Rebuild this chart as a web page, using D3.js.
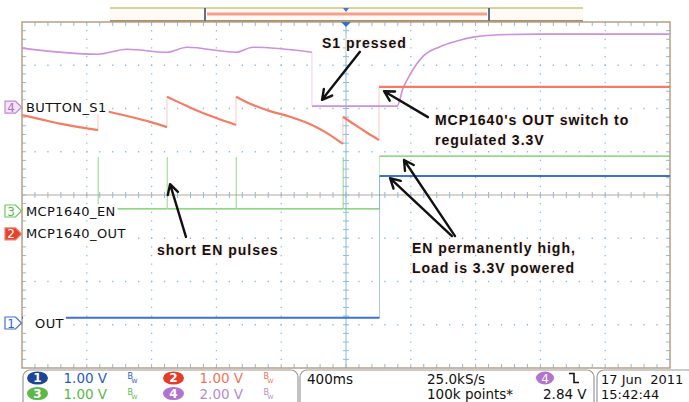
<!DOCTYPE html>
<html>
<head>
<meta charset="utf-8">
<script src="https://cdn.jsdelivr.net/npm/d3@7"></script>
<style>
  body { margin: 0; background: #fff; }
  svg { display: block; }
</style>
</head>
<body>
<script>
// timebase 400 ms/div, 10 divisions, trigger in the middle
const timeTicks = d3.range(-2000, 2001, 400)
const divTicks = d3.range(-4, 5, 1)

// channels 1..4 : volts/div and ground position (divisions from centre)
const chNames = ['OUT', 'MCP1640_OUT', 'MCP1640_EN', 'BUTTON_S1']
const chColors = ['#3c72d2', '#f47c62', '#6cc85c', '#cc90de']
const chVoltsDiv = [1, 1, 1, 2]
const chOffset = [-2.96, -0.90, -0.37, 2.03]
const chScaleText = ['1.00 V', '1.00 V', '1.00 V', '2.00 V']

// traces, [ms, V]; equal times = fast edge
const ch1Pts = [[-2000, 0.12], [207, 0.12], [207, 3.40], [2000, 3.40]]

const ch2Pts = [
  [-2000, 2.75], [-1883, 2.65], [-1765, 2.55], [-1648, 2.47], [-1531, 2.40],
  [-1531, 2.89], [-1457, 2.82], [-1333, 2.71], [-1210, 2.59], [-1105, 2.47],
  [-1105, 3.17], [-1025, 3.03], [-932, 2.87], [-809, 2.69], [-679, 2.52],
  [-679, 3.17], [-593, 3.01], [-469, 2.84], [-346, 2.71], [-210, 2.52], [-130, 2.36], [-19, 2.08],
  [-19, 2.71], [56, 2.52], [130, 2.34], [204, 2.17],
  [204, 3.40], [2000, 3.40]
]

const ch3Pts = [
  [-2000, 0.05],
  [-1531, 0.05], [-1531, 1.23], [-1528, 1.23], [-1528, 0.05],
  [-1105, 0.05], [-1105, 1.23], [-1102, 1.23], [-1102, 0.05],
  [-679, 0.05], [-679, 1.23], [-676, 1.23], [-676, 0.05],
  [-19, 0.05], [-19, 1.23], [-16, 1.23], [-16, 0.05],
  [207, 0.05], [207, 1.27], [2000, 1.27]
]

const ch4Pts = [
  [-2000, 2.73], [-1537, 2.45], [-1352, 2.68], [-1105, 2.54], [-981, 2.77],
  [-679, 2.54], [-574, 2.77], [-210, 2.54],
  [-210, 0.05], [315, 0.05], [352, 0.88], [383, 1.35], [432, 1.95], [475, 2.35],
  [580, 2.80], [685, 3.06], [784, 3.24], [889, 3.33], [1198, 3.38], [2000, 3.38]
]

// annotations, positions in [ms, divisions]
const noteText = [['S1 pressed'], ["MCP1640's OUT switch to", 'regulated 3.3V'], ['short EN pulses'],
  ['EN permanently high,', 'Load is 3.3V powered']]
const notePos = [[-148, 3.40], [549, 1.62], [-1167, -1.39], [407, -1.34]]
// tail t, tail d, head t, head d
const arrowPos = [[86, 3.31, -148, 2.20], [506, 1.80, 235, 2.40], [-988, -0.97, -1086, 0.25],
  [673, -0.95, 358, 0.81], [654, -0.95, 272, 0.39]]

// status bar
const timebase = '400ms'
const sampleRate = '25.0kS/s'
const recordLen = '100k points*'
const trigLevel = '2.84 V'
const dateText = '17 Jun  2011'
const clockText = '15:42:44'

const W = 689, H = 402
const svg = d3.select('body').append('svg').attr('width', W).attr('height', H)

const x = d3.scaleLinear().domain([-2000, 2000]).range([22, 670])
const y = d3.scaleLinear().domain([-4, 4]).range([368, 22])
const X0 = x(-2000), X1 = x(2000), Y0 = y(4), Y1 = y(-4)
const minX = (x(400) - x(0)) / 5, minY = (y(0) - y(1)) / 5

// record view bar on top
const bar = svg.append('g')
bar.append('rect').attr('x', 110).attr('y', 8).attr('width', 473).attr('height', Y0 - 8)
  .attr('fill', '#fffaf6')
bar.append('line').attr('x1', 110).attr('x2', 583).attr('y1', 8).attr('y2', 8)
  .attr('stroke', '#cdc47c').attr('stroke-width', 1.5)
bar.append('line').attr('x1', 110).attr('x2', 583).attr('y1', Y0 - 1).attr('y2', Y0 - 1)
  .attr('stroke', '#a8906c').attr('stroke-width', 2)
bar.append('line').attr('x1', 207).attr('x2', 487).attr('y1', 14).attr('y2', 14)
  .attr('stroke', '#f5a08a').attr('stroke-width', 3)
bar.selectAll('.brk').data([205, 489]).join('line')
  .attr('x1', d => d).attr('x2', d => d).attr('y1', 8).attr('y2', Y0 - 1)
  .attr('stroke', '#5b7386').attr('stroke-width', 2)
bar.append('path').attr('d', `M${x(0) - 3},8 L${x(0) + 3},8 L${x(0)},12 Z`).attr('fill', '#3b78c8')

// graticule
const grid = svg.append('g')
grid.selectAll('.vg').data(timeTicks.slice(1, -1).filter(d => d !== 0)).join('line')
  .attr('x1', d => x(d)).attr('x2', d => x(d)).attr('y1', Y0).attr('y2', Y1)
  .attr('stroke', '#86bde4').attr('stroke-width', 1.3)
  .attr('stroke-dasharray', `1.3,${minY - 1.3}`).attr('stroke-dashoffset', 0.65)
grid.selectAll('.hg').data(divTicks.slice(1, -1).filter(d => d !== 0)).join('line')
  .attr('x1', X0).attr('x2', X1).attr('y1', d => y(d)).attr('y2', d => y(d))
  .attr('stroke', '#86bde4').attr('stroke-width', 1.3)
  .attr('stroke-dasharray', `1.3,${minX - 1.3}`).attr('stroke-dashoffset', 0.65)

// centre lines with minor ticks
grid.append('line').attr('x1', X0).attr('x2', X1).attr('y1', y(0)).attr('y2', y(0))
  .attr('stroke', '#c2a690').attr('stroke-width', 1.2)
grid.append('line').attr('x1', x(0)).attr('x2', x(0)).attr('y1', Y0).attr('y2', Y1)
  .attr('stroke', '#a6c2e0').attr('stroke-width', 1.2)
const minorT = d3.range(1, 50).map(i => -2000 + i * 80)
const minorD = d3.range(1, 40).map(i => -4 + i * 0.2)
grid.selectAll('.ct').data(minorT).join('line')
  .attr('x1', d => x(d)).attr('x2', d => x(d)).attr('y1', y(0) - 3).attr('y2', y(0) + 3)
  .attr('stroke', '#86bde4').attr('stroke-width', 1)
grid.selectAll('.cv').data(minorD).join('line')
  .attr('x1', x(0) - 3).attr('x2', x(0) + 3).attr('y1', d => y(d)).attr('y2', d => y(d))
  .attr('stroke', '#86bde4').attr('stroke-width', 1)
// edge ticks
grid.selectAll('.et').data(minorT).join('path')
  .attr('d', d => `M${x(d)},${Y0} v4 M${x(d)},${Y1} v-4`)
  .attr('stroke', '#86bde4').attr('stroke-width', 1)
grid.selectAll('.ev').data(minorD).join('path')
  .attr('d', d => `M${X0},${y(d)} h4 M${X1},${y(d)} h-4`)
  .attr('stroke', '#86bde4').attr('stroke-width', 1)
grid.append('rect').attr('x', X0).attr('y', Y0).attr('width', X1 - X0).attr('height', Y1 - Y0)
  .attr('fill', 'none').attr('stroke', '#b8a084').attr('stroke-width', 1.5)

// trigger position marker
svg.append('path').attr('d', `M${x(0) - 5},${Y0} L${x(0) + 5},${Y0} L${x(0)},${Y0 + 5} Z`)
  .attr('fill', '#2f74c9')

// traces
function drawTrace(pts, ch, width) {
  const yv = v => y(chOffset[ch] + v / chVoltsDiv[ch])
  const runs = [[pts[0]]], edges = []
  for (let i = 1; i < pts.length; i++) {
    if (pts[i][0] === pts[i - 1][0]) {
      edges.push([pts[i - 1], pts[i]])
      runs.push([pts[i]])
    } else {
      runs[runs.length - 1].push(pts[i])
    }
  }
  const g = svg.append('g')
  g.selectAll('.edge').data(edges).join('line')
    .attr('x1', d => x(d[0][0])).attr('x2', d => x(d[1][0]))
    .attr('y1', d => yv(d[0][1])).attr('y2', d => yv(d[1][1]))
    .attr('stroke', chColors[ch]).attr('stroke-width', 1).attr('opacity', 0.4)
  const line = d3.line().x(d => x(d[0])).y(d => yv(d[1])).curve(d3.curveMonotoneX)
  g.selectAll('.run').data(runs.filter(r => r.length > 1)).join('path')
    .attr('d', line).attr('fill', 'none')
    .attr('stroke', chColors[ch]).attr('stroke-width', width)
}
drawTrace(ch4Pts, 3, 1.6)
drawTrace(ch2Pts, 1, 2.2)
drawTrace(ch3Pts, 2, 1.4)
drawTrace(ch1Pts, 0, 2)

// channel markers and labels
const markFill = ['#ffffff', '#e8412c', '#ffffff', '#f1e4f6']
const markText = ['#2f62c6', '#ffffff', '#5cb84a', '#b06ccc']
const labelX = [35, 26, 26, 26]
const lab = svg.append('g')
chNames.forEach((name, i) => {
  const yy = y(chOffset[i])
  const t = lab.append('text').attr('x', labelX[i]).attr('y', yy + 4.5)
    .attr('font-family', 'DejaVu Sans, sans-serif').attr('font-size', 13)
    .attr('letter-spacing', 0.4).attr('fill', '#111').text(name)
  const w = t.node().getComputedTextLength()
  lab.insert('rect', 'text').attr('x', X0 + 1).attr('y', yy - 7)
    .attr('width', labelX[i] + w + 1 - X0).attr('height', 14).attr('fill', '#fff')
  lab.append('path')
    .attr('d', `M5,${yy - 6} H15.5 L21.5,${yy} L15.5,${yy + 6} H5 Z`)
    .attr('fill', markFill[i]).attr('stroke', chColors[i] === '#cc90de' ? '#c08ad8' : chColors[i])
    .attr('stroke-width', 1.2)
  lab.append('text').attr('x', 11).attr('y', yy + 4.5).attr('text-anchor', 'middle')
    .attr('font-family', 'DejaVu Sans, sans-serif').attr('font-size', 12)
    .attr('fill', markText[i]).text(i + 1)
})

// annotations
const ann = svg.append('g')
arrowPos.forEach(a => {
  const x1 = x(a[0]), y1 = y(a[1]), x2 = x(a[2]), y2 = y(a[3])
  const ang = Math.atan2(y2 - y1, x2 - x1), L = 11, sp = 0.5
  const w1 = [x2 - L * Math.cos(ang - sp), y2 - L * Math.sin(ang - sp)]
  const w2 = [x2 - L * Math.cos(ang + sp), y2 - L * Math.sin(ang + sp)]
  ann.append('path')
    .attr('d', `M${x1},${y1} L${x2},${y2} M${w1[0]},${w1[1]} L${x2},${y2} L${w2[0]},${w2[1]}`)
    .attr('fill', 'none').attr('stroke', '#111').attr('stroke-width', 2.4)
    .attr('stroke-linecap', 'round').attr('stroke-linejoin', 'round')
})
noteText.forEach((lines, i) => {
  lines.forEach((s, j) => {
    ann.append('text').attr('x', x(notePos[i][0])).attr('y', y(notePos[i][1]) + j * 20)
      .attr('font-family', 'Liberation Sans, Arial, sans-serif').attr('font-weight', 'bold')
      .attr('font-size', 14).attr('letter-spacing', 1)
      .attr('stroke', '#fff4f0').attr('stroke-width', 3).attr('paint-order', 'stroke')
      .attr('fill', '#111').text(s)
  })
})

// status bar
const st = svg.append('g').attr('font-family', 'DejaVu Sans, sans-serif').attr('font-size', 13.5)
const boxes = [[23, 298], [300, 594], [597, 695]]
st.selectAll('.box').data(boxes).join('rect')
  .attr('x', d => d[0]).attr('y', 370).attr('width', d => d[1] - d[0]).attr('height', 40)
  .attr('rx', 7).attr('fill', '#fff').attr('stroke', '#9a9a9a').attr('stroke-width', 1.2)

const badgeCol = ['#1f4598', '#e33c28', '#5cb848', '#b572cc']
const valCol = ['#2a5cc0', '#f07456', '#5ab848', '#b48ccc']
const colX = [37.5, 173.5], rowY = [378, 393.5]
const place = [[0, 0], [1, 0], [0, 1], [1, 1]]  // [col,row] for ch1..ch4
chScaleText.forEach((s, i) => {
  const cx = colX[place[i][0]], cy = rowY[place[i][1]]
  st.append('ellipse').attr('cx', cx).attr('cy', cy).attr('rx', 10.5).attr('ry', 6.6)
    .attr('fill', badgeCol[i])
  st.append('text').attr('x', cx).attr('y', cy + 4.3).attr('text-anchor', 'middle')
    .attr('font-size', 12).attr('font-weight', 'bold').attr('fill', '#fff').text(i + 1)
  st.append('text').attr('x', cx + 26).attr('y', cy + 5).attr('fill', valCol[i]).text(s)
  st.append('text').attr('x', cx + 90).attr('y', cy + 1).attr('font-size', 8)
    .attr('fill', valCol[i]).text('B')
  st.append('text').attr('x', cx + 94).attr('y', cy + 5).attr('font-size', 6)
    .attr('fill', valCol[i]).text('W')
})
st.append('text').attr('x', 307).attr('y', 384).attr('fill', '#111').text(timebase)
st.append('text').attr('x', 427).attr('y', 384).attr('fill', '#111').text(sampleRate)
st.append('text').attr('x', 427).attr('y', 398.5).attr('fill', '#111').text(recordLen)
st.append('ellipse').attr('cx', 545).attr('cy', 378).attr('rx', 9).attr('ry', 6.5)
  .attr('fill', badgeCol[3])
st.append('text').attr('x', 545).attr('y', 382.5).attr('text-anchor', 'middle')
  .attr('font-size', 12).attr('fill', '#fff').text('4')
st.append('path').attr('d', 'M569,373.5 H574 V382.5 H579').attr('fill', 'none')
  .attr('stroke', '#111').attr('stroke-width', 1.6)
st.append('text').attr('x', 543).attr('y', 398.5).attr('fill', '#111').text(trigLevel)
st.append('text').attr('x', 601).attr('y', 384).attr('fill', '#111').attr('font-size', 13)
  .style('white-space', 'pre').text(dateText)
st.append('text').attr('x', 601).attr('y', 398.5).attr('fill', '#111').attr('font-size', 13)
  .text(clockText)
</script>
</body>
</html>
